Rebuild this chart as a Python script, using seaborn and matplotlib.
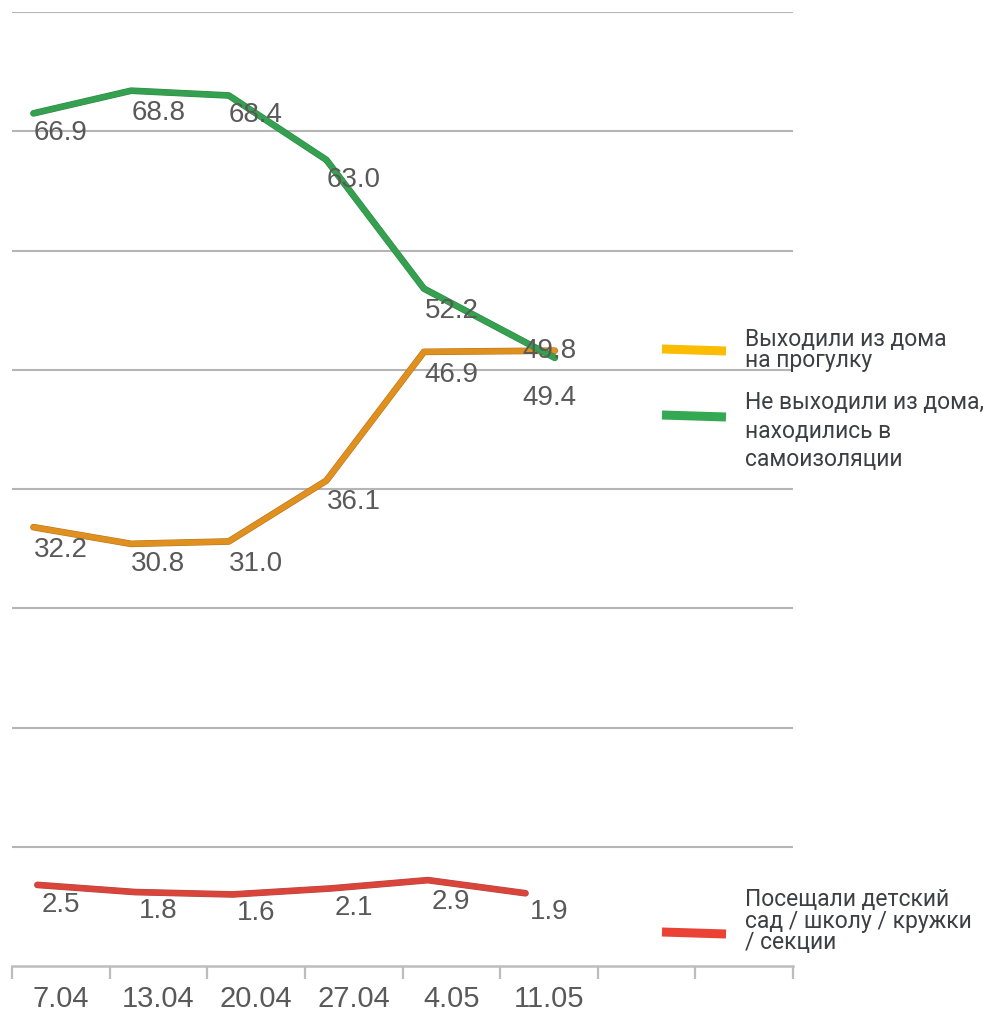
import numpy as np
import pandas as pd
import matplotlib
matplotlib.use('Agg')
import matplotlib.pyplot as plt
import seaborn as sns
from matplotlib.lines import Line2D
import matplotlib.patheffects as pe

# dates on the x axis (two trailing empty slots as in the original)
dates = ['7.04', '13.04', '20.04', '27.04', '4.05', '11.05', '', '']

# line values as drawn, printed labels as shown
walk = [32.2, 30.8, 31.0, 36.1, 46.9, 47.0]
walk_lbl = ['32.2', '30.8', '31.0', '36.1', '46.9', '49.4']
home = [66.9, 68.8, 68.4, 63.0, 52.2, 46.4]
home_lbl = ['66.9', '68.8', '68.4', '63.0', '52.2', '49.8']
school = [2.2, 1.6, 1.4, 1.9, 2.6, 1.5]
school_lbl = ['2.5', '1.8', '1.6', '2.1', '2.9', '1.9']

names = ['Выходили из дома\nна прогулку',
         'Не выходили из дома,\nнаходились в\nсамоизоляции',
         'Посещали детский\nсад / школу / кружки\n/ секции']
line_colors = ['#E0901E', '#34A050', '#D9453B']
edge_colors = ['#b8741c', '#2f8a45', '#b8453e']
key_colors = ['#FBBC04', '#34A853', '#EA4335']

W, H = 996, 1013
sns.set_theme(style='white')
plt.rcParams['font.family'] = ['Liberation Sans', 'DejaVu Sans']

fig = plt.figure(figsize=(W / 100, H / 100), dpi=100)
ax = fig.add_axes([12 / W, 1 - 966 / H, (793 - 12) / W, (966 - 12) / H])

n = 6
rows = []
shifts = {names[0]: [-0.28] * 5 + [0.06],
          names[1]: [-0.28] * 5 + [0.06],
          names[2]: [-0.24] * 6}
for name, vals in zip(names, [walk, home, school]):
    for i in range(n):
        rows.append({'series': name, 'x': i + shifts[name][i], 'y': vals[i]})
df = pd.DataFrame(rows)

sns.lineplot(data=df, x='x', y='y', hue='series', hue_order=names,
             palette=line_colors, linewidth=4.0, legend=False, ax=ax,
             sort=False, estimator=None)
for line, ec in zip(ax.lines, edge_colors):
    line.set_path_effects([pe.Stroke(linewidth=4.8, foreground=ec), pe.Normal()])

# value labels (pixel offsets below each point)
px = 72 / 100
dys = [[23, 20, 23, 21, 23, 47], [20, 22, 20, 20, 22, -7], [20, 19, 19, 20, 22, 19]]
for vals, lbls, dy in zip([walk, home, school], [walk_lbl, home_lbl, school_lbl], dys):
    for i in range(n):
        ax.annotate(lbls[i], xy=(i, vals[i]), xytext=(0, -dy[i] * px),
                    textcoords='offset points', ha='center', va='center',
                    fontsize=20, color='#595959', zorder=5)

ax.set_xlim(-0.5, len(dates) - 0.5)
ax.set_ylim(-4.6, 75.4)
ax.set_yticks(np.arange(5.4, 76, 10))
ax.yaxis.grid(True, color='#b5b5b5', linewidth=1.5)
ax.set_axisbelow(True)
ax.tick_params(axis='y', left=False, labelleft=False)
ax.set_xticks(range(len(dates)))
ax.set_xticklabels(dates)
ax.set_xticks(np.arange(-0.5, len(dates), 1), minor=True)
ax.tick_params(axis='x', which='major', length=0, pad=14, labelsize=21,
               labelcolor='#595959')
ax.tick_params(axis='x', which='minor', bottom=True, length=9, width=1.6,
               color='#bdbdbd')
ax.set_xlabel('')
ax.set_ylabel('')
for s in ['top', 'left', 'right']:
    ax.spines[s].set_visible(False)
ax.spines['bottom'].set_color('#bdbdbd')
ax.spines['bottom'].set_linewidth(1.8)

# legend keys and text on the right
key_y = [350, 416, 933]
text_y = [350, 431, 921]
spacing = [0.9, 1.33, 0.9]
for ky, ty, ls, name, c in zip(key_y, text_y, spacing, names, key_colors):
    fig.add_artist(Line2D([662 / W, 726 / W], [1 - (ky - 1) / H, 1 - (ky + 1) / H],
                          transform=fig.transFigure, color=c, linewidth=6.5,
                          solid_capstyle='butt'))
    fig.text(745 / W, 1 - ty / H, name, ha='left', va='center', fontsize=16.5,
             color='#3c4043', family=['Roboto', 'DejaVu Sans'], linespacing=ls)

fig.savefig('out.png', dpi=100, facecolor='white')
